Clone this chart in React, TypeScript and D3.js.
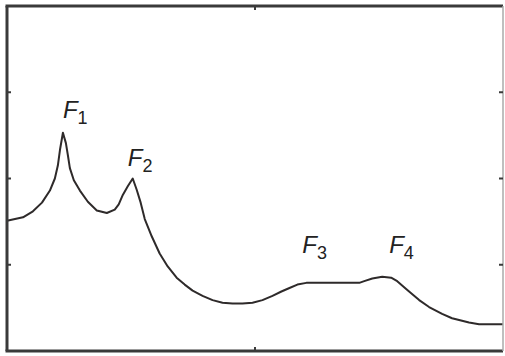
import React from 'react';
import * as d3 from 'd3';

// spectrum envelope (Hz, arbitrary level)
const freqs = [0, 129, 209, 282, 346, 386, 410, 427, 451, 475, 491, 507, 539, 588, 652, 724,
    805, 869, 901, 934, 974, 1014, 1046, 1078, 1111, 1167, 1231, 1296, 1368, 1433, 1497, 1577,
    1658, 1738, 1819, 1899, 1980, 2060, 2141, 2213, 2278, 2342, 2414, 2841, 2881, 2946, 3026,
    3098, 3147, 3219, 3276, 3324, 3404, 3509, 3589, 3670, 3726, 3807, 4000];
const levels = [1.51, 1.55, 1.62, 1.72, 1.86, 2.0, 2.15, 2.33, 2.53, 2.41, 2.27, 2.12, 1.98,
    1.86, 1.73, 1.63, 1.6, 1.64, 1.7, 1.81, 1.91, 2.0, 1.87, 1.72, 1.53, 1.33, 1.13, 0.98, 0.85,
    0.77, 0.7, 0.64, 0.59, 0.56, 0.55, 0.55, 0.56, 0.59, 0.64, 0.69, 0.73, 0.77, 0.79, 0.79,
    0.81, 0.84, 0.86, 0.85, 0.81, 0.72, 0.65, 0.59, 0.51, 0.43, 0.38, 0.35, 0.33, 0.31, 0.31];

const formantNames = ['1', '2', '3', '4'];
const formantFreqs = [451, 974, 2382, 3082];
const formantLevels = [2.7, 2.15, 1.14, 1.14];

const xTicks = [2000];
const yTicks = [1, 2, 3];

const width = 505;
const height = 356;
const margin = {top: 6, right: 2, bottom: 5, left: 7};

export default function App() {
    const x = d3.scaleLinear()
        .domain([0, 4000])
        .range([margin.left, width - margin.right]);
    const y = d3.scaleLinear()
        .domain([0, 4])
        .range([height - margin.bottom, margin.top]);

    const line = d3.line<number>()
        .x((d, i) => x(freqs[i]))
        .y(d => y(d))
        .curve(d3.curveLinear);

    const tick = 4;
    const stroke = '#3a3a3a';
    const x0 = x(0), x1 = x(4000), y0 = y(0), y1 = y(4);

    return (
        <div style={{position: 'absolute', left: 0, top: 0}}>
            <svg width={width} height={height} style={{display: 'block', background: '#fff'}}>
                <path d={line(levels) || ''} fill='none' stroke='#2e2a2a' strokeWidth={2}
                    strokeLinejoin='round' />
                <line x1={x0 - 1.5} x2={x1} y1={y1} y2={y1} stroke={stroke} strokeWidth={3} />
                <line x1={x0 - 1.5} x2={x1} y1={y0} y2={y0} stroke={stroke} strokeWidth={3} />
                <line x1={x0} x2={x0} y1={y1} y2={y0} stroke={stroke} strokeWidth={3} />
                <line x1={x1} x2={x1} y1={y1} y2={y0} stroke='#aaa' strokeWidth={1.5} />
                {xTicks.map(t => (
                    <g key={'x' + t}>
                        <line x1={x(t)} x2={x(t)} y1={y1} y2={y1 + tick} stroke={stroke} strokeWidth={2} />
                        <line x1={x(t)} x2={x(t)} y1={y0} y2={y0 - tick} stroke={stroke} strokeWidth={2} />
                    </g>
                ))}
                {yTicks.map(t => (
                    <g key={'y' + t}>
                        <line x1={x0} x2={x0 + tick} y1={y(t)} y2={y(t)} stroke={stroke} strokeWidth={2} />
                        <line x1={x1} x2={x1 - tick} y1={y(t)} y2={y(t)} stroke={stroke} strokeWidth={2} />
                    </g>
                ))}
                {formantNames.map((n, i) => (
                    <text key={n} x={x(formantFreqs[i])} y={y(formantLevels[i])}
                        fontFamily='Liberation Sans, Arial, sans-serif' fill='#222'>
                        <tspan fontSize={24} fontStyle='italic'>F</tspan>
                        <tspan fontSize={18} dy={6}>{n}</tspan>
                    </text>
                ))}
            </svg>
        </div>
    );
}
